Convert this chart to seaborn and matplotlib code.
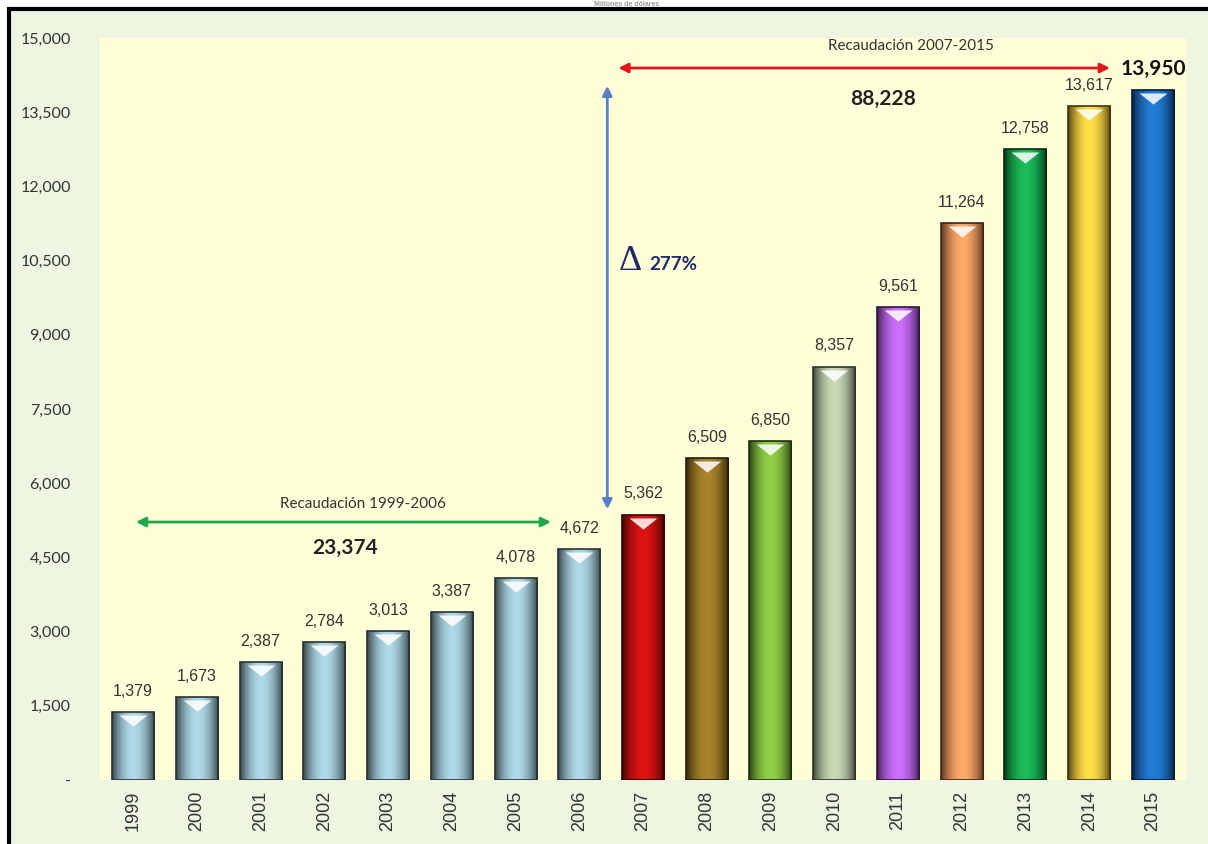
import numpy as np
import matplotlib
matplotlib.use("Agg")
import matplotlib.pyplot as plt
import matplotlib.colors as mcolors
from matplotlib.patches import Rectangle
import seaborn as sns

years = ["1999", "2000", "2001", "2002", "2003", "2004", "2005", "2006",
         "2007", "2008", "2009", "2010", "2011", "2012", "2013", "2014", "2015"]
values = [1379, 1673, 2387, 2784, 3013, 3387, 4078, 4672,
          5362, 6509, 6850, 8357, 9561, 11264, 12758, 13617, 13950]
bar_colors = ["#8fb4c0"] * 8 + ["#b80808", "#8a6a1c", "#74ad35", "#a6b596",
                                "#a957d9", "#e58a52", "#0e9a44", "#e9b935", "#1463b3"]
yticks = [0, 1500, 3000, 4500, 6000, 7500, 9000, 10500, 12000, 13500, 15000]
ytick_labels = ["-", "1,500", "3,000", "4,500", "6,000", "7,500", "9,000",
                "10,500", "12,000", "13,500", "15,000"]

title_text = "Millones de dólares"
period1_label = "Recaudación 1999-2006"
period1_total = "23,374"
period2_label = "Recaudación 2007-2015"
period2_total = "88,228"
growth_label = "277%"

sns.set_theme(style="white")
plt.rcParams['font.family'] = ['Liberation Sans', 'DejaVu Sans']

fig = plt.figure(figsize=(12.08, 8.44), dpi=100, facecolor="white")
# outer framed panel
fig.patches.append(Rectangle((9 / 1208, -0.01), 1.02, (844 - 9) / 844 + 0.01,
                             transform=fig.transFigure, facecolor="#eef6e2",
                             edgecolor="black", linewidth=3, zorder=-5))
fig.text(627 / 1208, 1 - 1 / 844, title_text, ha="center", va="top",
         fontsize=5, color="#999999", fontweight="bold")

ax = fig.add_axes([100 / 1208, 1 - 780 / 844, (1186 - 100) / 1208, (780 - 38) / 844])
ax.set_zorder(2)
ax.set_facecolor("#fefed8")

sns.barplot(x=years, y=values, hue=years, palette=bar_colors, legend=False,
            width=0.66, saturation=1, ax=ax, edgecolor="none", zorder=2)

# cylinder-like shading on each bar
n = 64
t = np.linspace(-1, 1, n)
prof = np.cos(t * np.pi / 2) ** 0.8
for patch, col in zip(ax.patches, bar_colors):
    base = np.array(mcolors.to_rgb(col))
    dark = base * 0.35
    light = np.clip(base * 1.15 + 0.04, 0, 1)
    rgb = dark[None, :] * (1 - prof[:, None]) + light[None, :] * prof[:, None]
    img = np.concatenate([rgb, np.ones((n, 1))], axis=1)[None, :, :]
    x0, w, h = patch.get_x(), patch.get_width(), patch.get_height()
    im = ax.imshow(img, extent=[x0, x0 + w, 0, h], aspect="auto", zorder=3,
                   interpolation="bilinear")
    im.set_clip_path(patch)
    patch.set_edgecolor((dark * 0.8).tolist())
    patch.set_linewidth(1.2)
    patch.set_zorder(4)
    patch.set_facecolor("none")

# white bevel triangles at tops
tri = [(-1.0, 0.0), (1.0, 0.0), (0.0, -0.8), (-1.0, 0.0)]
ax.scatter(np.arange(len(values)), np.array(values) - 60, marker=tri, s=400,
           color="white", alpha=0.85, zorder=5, linewidths=0)

# value labels
for i, v in enumerate(values):
    if i == len(values) - 1:
        ax.text(i, v + 420, f"{v:,}", ha="center", va="center", fontsize=15,
                fontweight="bold", color="#111111", zorder=6, family=["Lato", "DejaVu Sans"])
    else:
        ax.text(i, v + 420, f"{v:,}", ha="center", va="center", fontsize=11.5,
                color="#333333", zorder=6)

ax.set_xlim(-0.52, len(values) - 0.48)
ax.set_ylim(0, 15000)
ax.set_yticks(yticks)
ax.set_yticklabels(ytick_labels, fontsize=11.5, color="#333333", family=["Lato", "DejaVu Sans"])
ax.tick_params(axis="y", pad=21, length=0)
ax.tick_params(axis="x", rotation=90, labelsize=13, labelcolor="#333333", length=0, pad=8)
ax.set_xlabel("")
ax.set_ylabel("")
for s in ax.spines.values():
    s.set_visible(False)

# period 1 annotation
ax.annotate("", xy=(6.6, 5215), xytext=(0.0, 5215),
            arrowprops=dict(arrowstyle="<|-|>", color="#1fa84a", lw=2, mutation_scale=14))
ax.text(3.6, 5580, period1_label, ha="center", va="center", fontsize=11, color="#333333",
        family=["Lato", "DejaVu Sans"])
ax.text(3.33, 4690, period1_total, ha="center", va="center", fontsize=15,
        fontweight="bold", color="#222222", family=["Lato", "DejaVu Sans"])

# period 2 annotation
ax.annotate("", xy=(15.37, 14393), xytext=(7.57, 14393),
            arrowprops=dict(arrowstyle="<|-|>", color="#e3141b", lw=2, mutation_scale=14))
ax.text(12.2, 14838, period2_label, ha="center", va="center", fontsize=11, color="#333333",
        family=["Lato", "DejaVu Sans"])
ax.text(11.76, 13766, period2_total, ha="center", va="center", fontsize=15,
        fontweight="bold", color="#222222", family=["Lato", "DejaVu Sans"])

# growth arrow
ax.annotate("", xy=(7.44, 14090), xytext=(7.44, 5418),
            arrowprops=dict(arrowstyle="<|-|>", color="#5b7fc6", lw=2, mutation_scale=14))
ax.text(7.62, 10480, "Δ", ha="left", va="center", fontsize=26, color="#1f2a66",
        family=["Liberation Serif", "DejaVu Serif"])
ax.text(8.1, 10420, growth_label, ha="left", va="center", fontsize=13.5,
        fontweight="bold", color="#1f2a66", family=["Lato", "DejaVu Sans"])

fig.savefig("out.png", dpi=100, facecolor=fig.get_facecolor())
